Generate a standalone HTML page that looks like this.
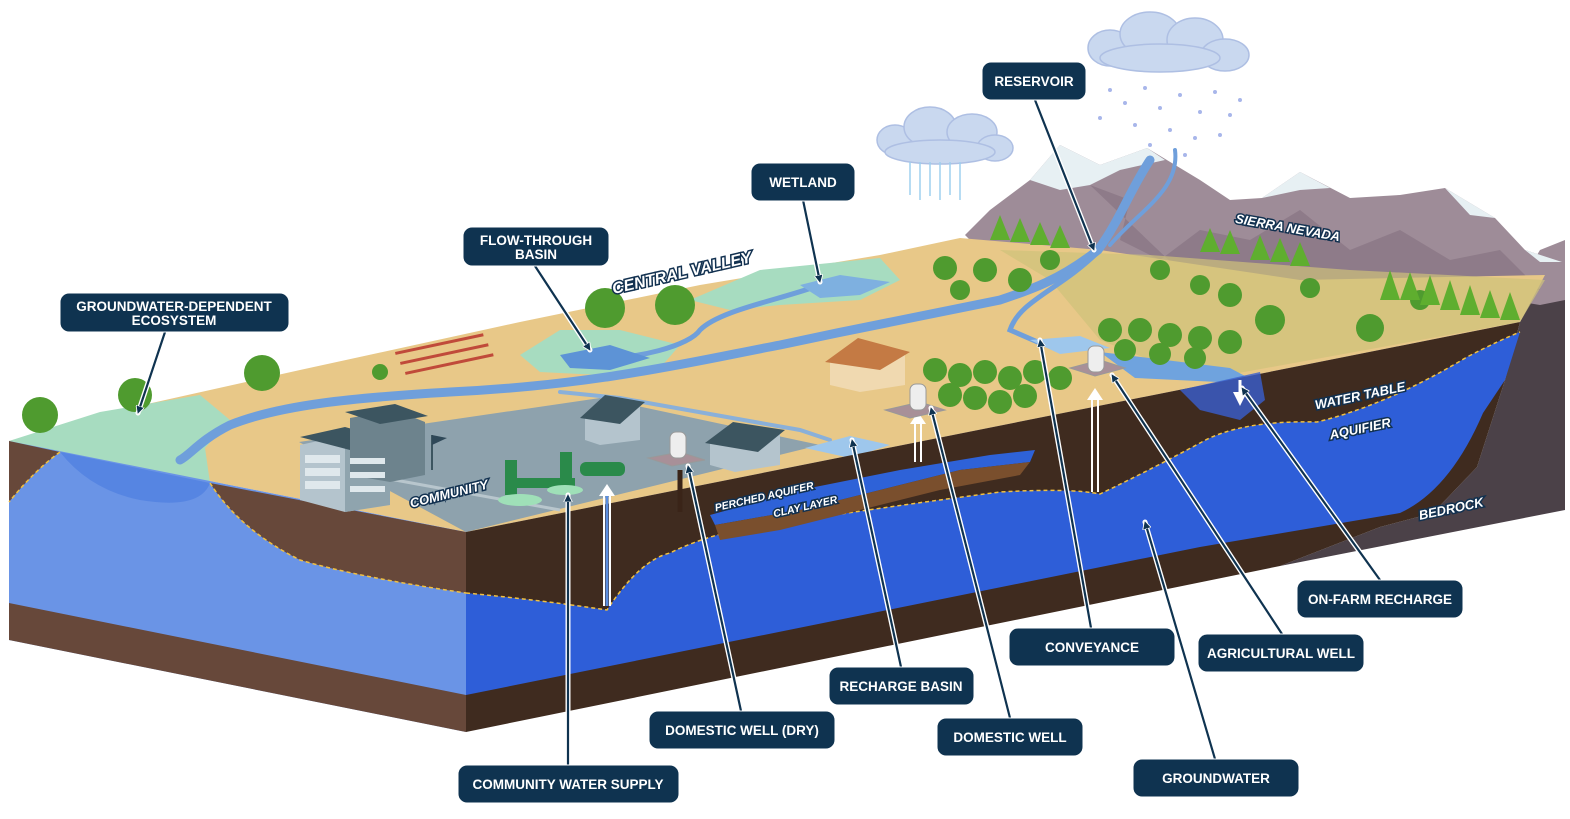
<!DOCTYPE html>
<html><head><meta charset="utf-8"><style>
html,body{margin:0;padding:0;background:#fff}
svg{display:block}
.lb{font-family:"Liberation Sans",sans-serif;font-weight:bold;font-size:13.5px;fill:#fff;text-anchor:middle}
.it{font-family:"Liberation Sans",sans-serif;font-weight:bold;font-style:italic;fill:#fff;stroke:#123150;stroke-width:3;paint-order:stroke;text-anchor:middle}
</style></head><body>
<svg width="1570" height="819" viewBox="0 0 1570 819" xmlns="http://www.w3.org/2000/svg">
<defs>
<marker id="ah" viewBox="0 0 10 10" refX="8" refY="5" markerWidth="4" markerHeight="4" orient="auto"><path d="M0,0L10,5L0,10z" fill="#0f3350" stroke="#fff" stroke-width="1"/></marker>
</defs>

<!-- clouds -->
<g fill="#c9d8ef" stroke="#aebfe3" stroke-width="1.5">
<ellipse cx="1110" cy="48" rx="22" ry="18"/><ellipse cx="1150" cy="34" rx="30" ry="22"/><ellipse cx="1195" cy="40" rx="28" ry="22"/><ellipse cx="1225" cy="55" rx="24" ry="16"/><ellipse cx="1160" cy="58" rx="60" ry="14"/>
<ellipse cx="895" cy="140" rx="18" ry="15"/><ellipse cx="930" cy="127" rx="26" ry="20"/><ellipse cx="972" cy="132" rx="25" ry="18"/><ellipse cx="995" cy="148" rx="18" ry="13"/><ellipse cx="940" cy="152" rx="55" ry="12"/>
</g>
<g stroke="#9fd0ef" stroke-width="1.5">
<line x1="910" y1="162" x2="910" y2="195"/><line x1="920" y1="162" x2="920" y2="200"/><line x1="930" y1="162" x2="930" y2="196"/><line x1="940" y1="162" x2="940" y2="200"/><line x1="950" y1="162" x2="950" y2="195"/><line x1="960" y1="162" x2="960" y2="200"/>
</g>
<g fill="#a8b6ea">
<circle cx="1110" cy="90" r="2"/><circle cx="1125" cy="103" r="2"/><circle cx="1145" cy="88" r="2"/><circle cx="1160" cy="108" r="2"/><circle cx="1180" cy="95" r="2"/><circle cx="1200" cy="112" r="2"/><circle cx="1215" cy="92" r="2"/><circle cx="1230" cy="115" r="2"/><circle cx="1100" cy="118" r="2"/><circle cx="1135" cy="125" r="2"/><circle cx="1170" cy="130" r="2"/><circle cx="1195" cy="138" r="2"/><circle cx="1220" cy="135" r="2"/><circle cx="1150" cy="145" r="2"/><circle cx="1185" cy="155" r="2"/><circle cx="1240" cy="100" r="2"/>
</g>

<!-- bedrock -->
<path d="M1520,322 L1540,285 L1565,278 L1565,510 L1280,566 L1380,527 L1433,513 L1477,467 L1505,380 Z" fill="#4b4148"/>
<path d="M1510,300 L1540,250 L1565,240 L1565,300 L1540,305 Z" fill="#9e8c98"/>
<!-- mountains -->
<path d="M965,235 L990,210 L1030,180 L1060,145 L1100,165 L1147,148 L1200,180 L1230,200 L1262,198 L1300,172 L1350,198 L1400,195 L1445,188 L1495,218 L1525,250 L1562,262 L1545,300 L1300,300 L1000,270 Z" fill="#9e8c98"/>
<path d="M1030,180 L1060,145 L1100,165 L1147,148 L1165,160 L1120,170 L1090,185 L1060,190 Z M1262,198 L1300,172 L1330,188 L1300,190 Z M1445,188 L1495,218 L1470,215 Z M1525,250 L1562,262 L1540,262Z" fill="#e7f0f3"/>
<path d="M1090,185 L1130,200 L1120,240 L1160,260 L1200,230 L1250,240 L1300,210 L1350,250 L1400,230 L1450,260 L1500,250 L1540,290 L1200,290Z" fill="#83707e" opacity=".6"/>

<!-- top surface -->
<path d="M9,441 L120,410 L300,370 L520,322 L700,285 L880,255 L960,238 L1100,250 L1300,280 L1545,275 L1520,322 L466,532 Z" fill="#e8c888"/>
<path d="M1000,250 L1150,255 L1350,270 L1545,280 L1520,322 L1200,380 L1100,340 L1050,280Z" fill="#cfc27a" opacity=".7"/>
<path d="M690,300 L760,270 L880,258 L900,280 L860,300 L780,305 L730,310Z" fill="#a7dcc0"/>
<path d="M520,355 L560,330 L620,330 L680,345 L660,368 L600,375 L540,372Z" fill="#a7dcc0"/>
<path d="M9,441 L100,412 L200,395 L230,420 L205,448 L210,483 L60,452Z" fill="#a7dcc0"/>
<!-- community slab -->
<path d="M299,442 L600,398 L820,445 L466,532 Z" fill="#8ea2ad"/>
<line x1="340" y1="470" x2="560" y2="510" stroke="#b8c6cd" stroke-width="3"/>

<!-- rivers -->
<g fill="none" stroke="#6f9fdb" stroke-linecap="round">
<path d="M1150,160 C1130,190 1120,220 1098,250 C1060,280 1030,290 1000,300 C900,320 850,330 780,345 C700,360 600,385 450,392 C350,398 280,405 230,425 C200,440 190,455 180,460" stroke-width="9"/>
<path d="M1175,150 C1180,190 1140,210 1110,245" stroke-width="4"/>
<path d="M1100,250 C1060,290 1020,300 1010,330 L1040,343 L1090,346" stroke-width="5"/>
<path d="M820,285 C780,300 720,310 700,330 C690,345 640,360 580,360" stroke-width="5"/>
<path d="M560,392 L620,398 L800,430 L830,440" stroke-width="4" stroke="#8ab0d9"/>
</g>
<path d="M560,355 L610,345 L650,358 L610,370 L570,368Z" fill="#5d93d6"/>
<path d="M800,285 L840,275 L890,282 L860,295 L820,298Z" fill="#7eb0e0"/>
<path d="M805,448 L850,436 L890,445 L850,458Z" fill="#9ec7ec"/>
<path d="M1030,340 L1080,336 L1110,348 L1060,354Z" fill="#9ec7ec"/>
<path d="M1100,352 L1230,368 L1260,384 L1135,378Z" fill="#6fa3de"/>

<!-- left face -->
<path d="M9,441 L466,532 L466,732 L9,640 Z" fill="#6a94e6"/>
<path d="M9,603 L466,695 L466,732 L9,640 Z" fill="#67483a"/>
<path d="M9,441 L60,452 Q35,470 9,502 Z" fill="#67483a"/>
<path d="M210,483 L466,532 L466,593 Q357,577 300,560 Q240,530 210,483Z" fill="#67483a"/>
<path d="M60,452 L210,483 Q200,510 140,500 Q90,490 60,452Z" fill="#4f7fe0" opacity=".7"/>
<path d="M210,483 Q240,530 300,560 Q357,577 466,593" fill="none" stroke="#f0c040" stroke-width="1.5" stroke-dasharray="4 3"/>
<path d="M60,452 Q35,470 9,502" fill="none" stroke="#f0c040" stroke-width="1.5" stroke-dasharray="4 3"/>

<!-- right face -->
<path d="M466,532 L1520,322 L1505,380 L1477,467 L1433,513 L1380,527 L1280,566 L466,732 Z" fill="#3f2b1f"/>
<path d="M466,593 Q540,600 607,610 Q640,560 670,553 Q720,528 800,520 Q900,505 1000,492 Q1070,488 1100,494 Q1150,470 1200,443 Q1240,420 1317,422 Q1387,405 1467,357 Q1500,340 1520,332 L1505,380 L1483,413 Q1450,490 1400,513 L1200,547 L466,695 Z" fill="#2e5ed8"/>
<path d="M466,593 Q540,600 607,610 Q640,560 670,553 Q720,528 800,520 Q900,505 1000,492 Q1070,488 1100,494 Q1150,470 1200,443 Q1240,420 1317,422 Q1387,405 1467,357 Q1500,340 1520,332" fill="none" stroke="#f0c040" stroke-width="1.5" stroke-dasharray="4 3"/>
<path d="M710,515 L800,490 L900,470 L990,455 L1035,450 L1030,462 L960,470 L880,490 L800,510 L715,525Z" fill="#2e62d8"/>
<path d="M715,525 L800,510 L880,490 L960,470 L1030,462 L1020,475 L940,490 L860,510 L780,530 L720,540Z" fill="#7a4f2d"/>
<path d="M1180,390 L1260,372 L1265,400 L1240,420 L1200,410Z" fill="#3a5fd0" opacity=".8"/>

<!-- wells -->
<g stroke="#fff" stroke-width="2">
<line x1="604" y1="490" x2="604" y2="606"/><line x1="610" y1="490" x2="610" y2="606"/>
<line x1="915" y1="420" x2="915" y2="462"/><line x1="921" y1="420" x2="921" y2="462"/>
<line x1="1092" y1="395" x2="1092" y2="492"/><line x1="1098" y1="395" x2="1098" y2="492"/>
</g>
<line x1="607" y1="606" x2="607" y2="492" stroke="#5b8ee0" stroke-width="3"/>
<path d="M599,496 L607,484 L615,496Z M910,424 L918,412 L926,424Z M1087,400 L1095,388 L1103,400Z" fill="#fff"/>
<line x1="680" y1="470" x2="680" y2="512" stroke="#3a2418" stroke-width="5"/>
<path d="M1233,392 L1240,406 L1247,392Z" fill="#fff"/>
<line x1="1240" y1="380" x2="1240" y2="398" stroke="#fff" stroke-width="3"/>
<g fill="#eee" stroke="#999">
<path d="M648,458 L680,452 L705,460 L672,466Z" fill="#a89098"/><rect x="670" y="432" width="16" height="26" rx="6"/>
<path d="M885,410 L920,402 L945,410 L910,418Z" fill="#a89098"/><rect x="910" y="384" width="16" height="26" rx="6"/>
<path d="M1070,368 L1100,360 L1125,368 L1095,376Z" fill="#a89098"/><rect x="1088" y="346" width="16" height="26" rx="6"/>
</g>

<!-- buildings -->
<path d="M300,445 L345,435 L390,448 L390,505 L345,512 L300,500Z" fill="#b4c4cd"/>
<path d="M345,435 L390,448 L390,505 L345,512Z" fill="#8fa4ae"/>
<path d="M300,437 L345,427 L392,440 L350,450Z" fill="#3c5560"/>
<path d="M350,418 L395,410 L425,422 L425,475 L390,482 L350,475Z" fill="#6d838d"/>
<path d="M345,412 L395,404 L428,416 L380,424Z" fill="#3c5560"/>
<g fill="#dfe8ec"><rect x="305" y="455" width="35" height="8"/><rect x="305" y="468" width="35" height="8"/><rect x="305" y="481" width="35" height="8"/><rect x="350" y="458" width="35" height="6"/><rect x="350" y="472" width="35" height="6"/><rect x="350" y="486" width="35" height="6"/></g>
<path d="M585,415 L610,398 L640,405 L640,440 L600,445 L585,440Z" fill="#b4c4cd"/>
<path d="M580,418 L605,395 L645,402 L620,424Z" fill="#3c5560"/>
<path d="M710,440 L735,425 L780,432 L780,465 L735,472 L710,465Z" fill="#b4c4cd"/>
<path d="M705,443 L733,422 L785,430 L758,452Z" fill="#3c5560"/>
<path d="M830,360 L860,340 L905,352 L905,385 L860,392 L830,385Z" fill="#f0d9b0"/>
<path d="M825,362 L858,338 L910,352 L880,370Z" fill="#c47a44"/>
<line x1="432" y1="435" x2="432" y2="470" stroke="#3c5560" stroke-width="2"/><path d="M432,435 L447,438 L432,445Z" fill="#2f4858"/>
<g fill="#2a8a4a"><rect x="505" y="460" width="12" height="35"/><rect x="560" y="452" width="12" height="35"/><rect x="515" y="478" width="60" height="10"/><rect x="580" y="462" width="45" height="14" rx="6"/><ellipse cx="520" cy="500" rx="22" ry="6" fill="#9fe0b8"/><ellipse cx="565" cy="490" rx="18" ry="5" fill="#9fe0b8"/></g>

<!-- crops / trees -->
<g fill="#c04a3a"><rect x="395" y="352" width="90" height="3" transform="rotate(-12 395 352)"/><rect x="400" y="362" width="90" height="3" transform="rotate(-12 400 362)"/><rect x="405" y="372" width="90" height="3" transform="rotate(-12 405 372)"/></g>
<g fill="#4f9b2f">
<circle cx="40" cy="415" r="18"/><circle cx="135" cy="395" r="17"/><circle cx="262" cy="373" r="18"/><circle cx="605" cy="308" r="20"/><circle cx="675" cy="305" r="20"/><circle cx="380" cy="372" r="8"/>
<circle cx="935" cy="370" r="12"/><circle cx="960" cy="375" r="12"/><circle cx="985" cy="372" r="12"/><circle cx="1010" cy="378" r="12"/><circle cx="1035" cy="372" r="12"/><circle cx="1060" cy="378" r="12"/><circle cx="950" cy="395" r="12"/><circle cx="975" cy="398" r="12"/><circle cx="1000" cy="402" r="12"/><circle cx="1025" cy="396" r="12"/>
<circle cx="1110" cy="330" r="12"/><circle cx="1140" cy="330" r="12"/><circle cx="1170" cy="335" r="12"/><circle cx="1200" cy="338" r="12"/><circle cx="1230" cy="342" r="12"/><circle cx="1125" cy="350" r="11"/><circle cx="1160" cy="354" r="11"/><circle cx="1195" cy="358" r="11"/>
<circle cx="945" cy="268" r="12"/><circle cx="985" cy="270" r="12"/><circle cx="1020" cy="280" r="12"/><circle cx="960" cy="290" r="10"/><circle cx="1050" cy="260" r="10"/>
<circle cx="1270" cy="320" r="15"/><circle cx="1370" cy="328" r="14"/><circle cx="1230" cy="295" r="12"/><circle cx="1310" cy="288" r="10"/><circle cx="1420" cy="300" r="10"/><circle cx="1160" cy="270" r="10"/><circle cx="1200" cy="285" r="10"/>
</g>
<g fill="#5fae2f">
<path d="M1380,300 L1390,270 L1400,300Z M1400,300 L1410,272 L1420,300Z M1420,305 L1430,275 L1440,305Z M1440,310 L1450,280 L1460,310Z M1460,315 L1470,285 L1480,315Z M1480,318 L1490,290 L1500,318Z M1500,320 L1510,292 L1520,320Z M1250,260 L1260,235 L1270,260Z M1270,262 L1280,238 L1290,262Z M1290,266 L1300,242 L1310,266Z M990,240 L1000,215 L1010,240Z M1010,242 L1020,218 L1030,242Z M1030,245 L1040,222 L1050,245Z M1050,248 L1060,225 L1070,248Z M1200,252 L1210,228 L1220,252Z M1220,254 L1230,230 L1240,254Z"/>
</g>

<text class="it" font-size="16" transform="translate(683,278) rotate(-13)">CENTRAL VALLEY</text>
<text class="it" font-size="13" transform="translate(1287,232) rotate(10)">SIERRA NEVADA</text>
<text class="it" font-size="13" transform="translate(1361,400) rotate(-12)">WATER TABLE</text>
<text class="it" font-size="13" transform="translate(1361,433) rotate(-12)">AQUIFIER</text>
<text class="it" font-size="13" transform="translate(1452,513) rotate(-12)">BEDROCK</text>
<text class="it" font-size="13" transform="translate(450,498) rotate(-14)">COMMUNITY</text>
<text class="it" font-size="10.5" transform="translate(765,500) rotate(-13)">PERCHED AQUIFER</text>
<text class="it" font-size="10.5" transform="translate(806,510) rotate(-13)">CLAY LAYER</text>

<g fill="none" stroke-linecap="round">
<g stroke="#fff" stroke-width="5">
<path d="M1035,100 L1094,250"/><path d="M803,200 L820,282"/><path d="M535,266 L590,350"/><path d="M165,332 L138,413"/>
<path d="M1380,580 L1242,388"/><path d="M1091,628 L1040,340"/><path d="M1282,634 L1112,375"/><path d="M901,667 L852,440"/>
<path d="M741,711 L688,466"/><path d="M1010,718 L931,408"/><path d="M1215,759 L1145,522"/><path d="M568,765 L568,495"/>
</g>
<g stroke="#0f3350" stroke-width="2.2" marker-end="url(#ah)">
<path d="M1035,100 L1094,250"/><path d="M803,200 L820,282"/><path d="M535,266 L590,350"/><path d="M165,332 L138,413"/>
<path d="M1380,580 L1242,388"/><path d="M1091,628 L1040,340"/><path d="M1282,634 L1112,375"/><path d="M901,667 L852,440"/>
<path d="M741,711 L688,466"/><path d="M1010,718 L931,408"/><path d="M1215,759 L1145,522"/><path d="M568,765 L568,495"/>
</g>
</g>

<g fill="#0f3350" stroke="#fff" stroke-width="1">
<rect x="982" y="62" width="104" height="38" rx="9"/>
<rect x="751" y="163" width="104" height="38" rx="9"/>
<rect x="463" y="227" width="146" height="39" rx="9"/>
<rect x="60" y="293" width="229" height="39" rx="9"/>
<rect x="1297" y="580" width="166" height="38" rx="9"/>
<rect x="1009" y="628" width="166" height="38" rx="9"/>
<rect x="1198" y="634" width="166" height="38" rx="9"/>
<rect x="829" y="667" width="145" height="38" rx="9"/>
<rect x="649" y="711" width="186" height="38" rx="9"/>
<rect x="937" y="718" width="146" height="38" rx="9"/>
<rect x="1133" y="759" width="166" height="38" rx="9"/>
<rect x="458" y="765" width="221" height="38" rx="9"/>
</g>
<text class="lb" x="1034" y="86">RESERVOIR</text>
<text class="lb" x="803" y="187">WETLAND</text>
<text class="lb" x="536" y="245">FLOW-THROUGH</text><text class="lb" x="536" y="259">BASIN</text>
<text class="lb" x="174" y="311">GROUNDWATER-DEPENDENT</text><text class="lb" x="174" y="325">ECOSYSTEM</text>
<text class="lb" x="1380" y="604">ON-FARM RECHARGE</text>
<text class="lb" x="1092" y="652">CONVEYANCE</text>
<text class="lb" x="1281" y="658">AGRICULTURAL WELL</text>
<text class="lb" x="901" y="691">RECHARGE BASIN</text>
<text class="lb" x="742" y="735">DOMESTIC WELL (DRY)</text>
<text class="lb" x="1010" y="742">DOMESTIC WELL</text>
<text class="lb" x="1216" y="783">GROUNDWATER</text>
<text class="lb" x="568" y="789">COMMUNITY WATER SUPPLY</text>
</svg>
</body></html>
